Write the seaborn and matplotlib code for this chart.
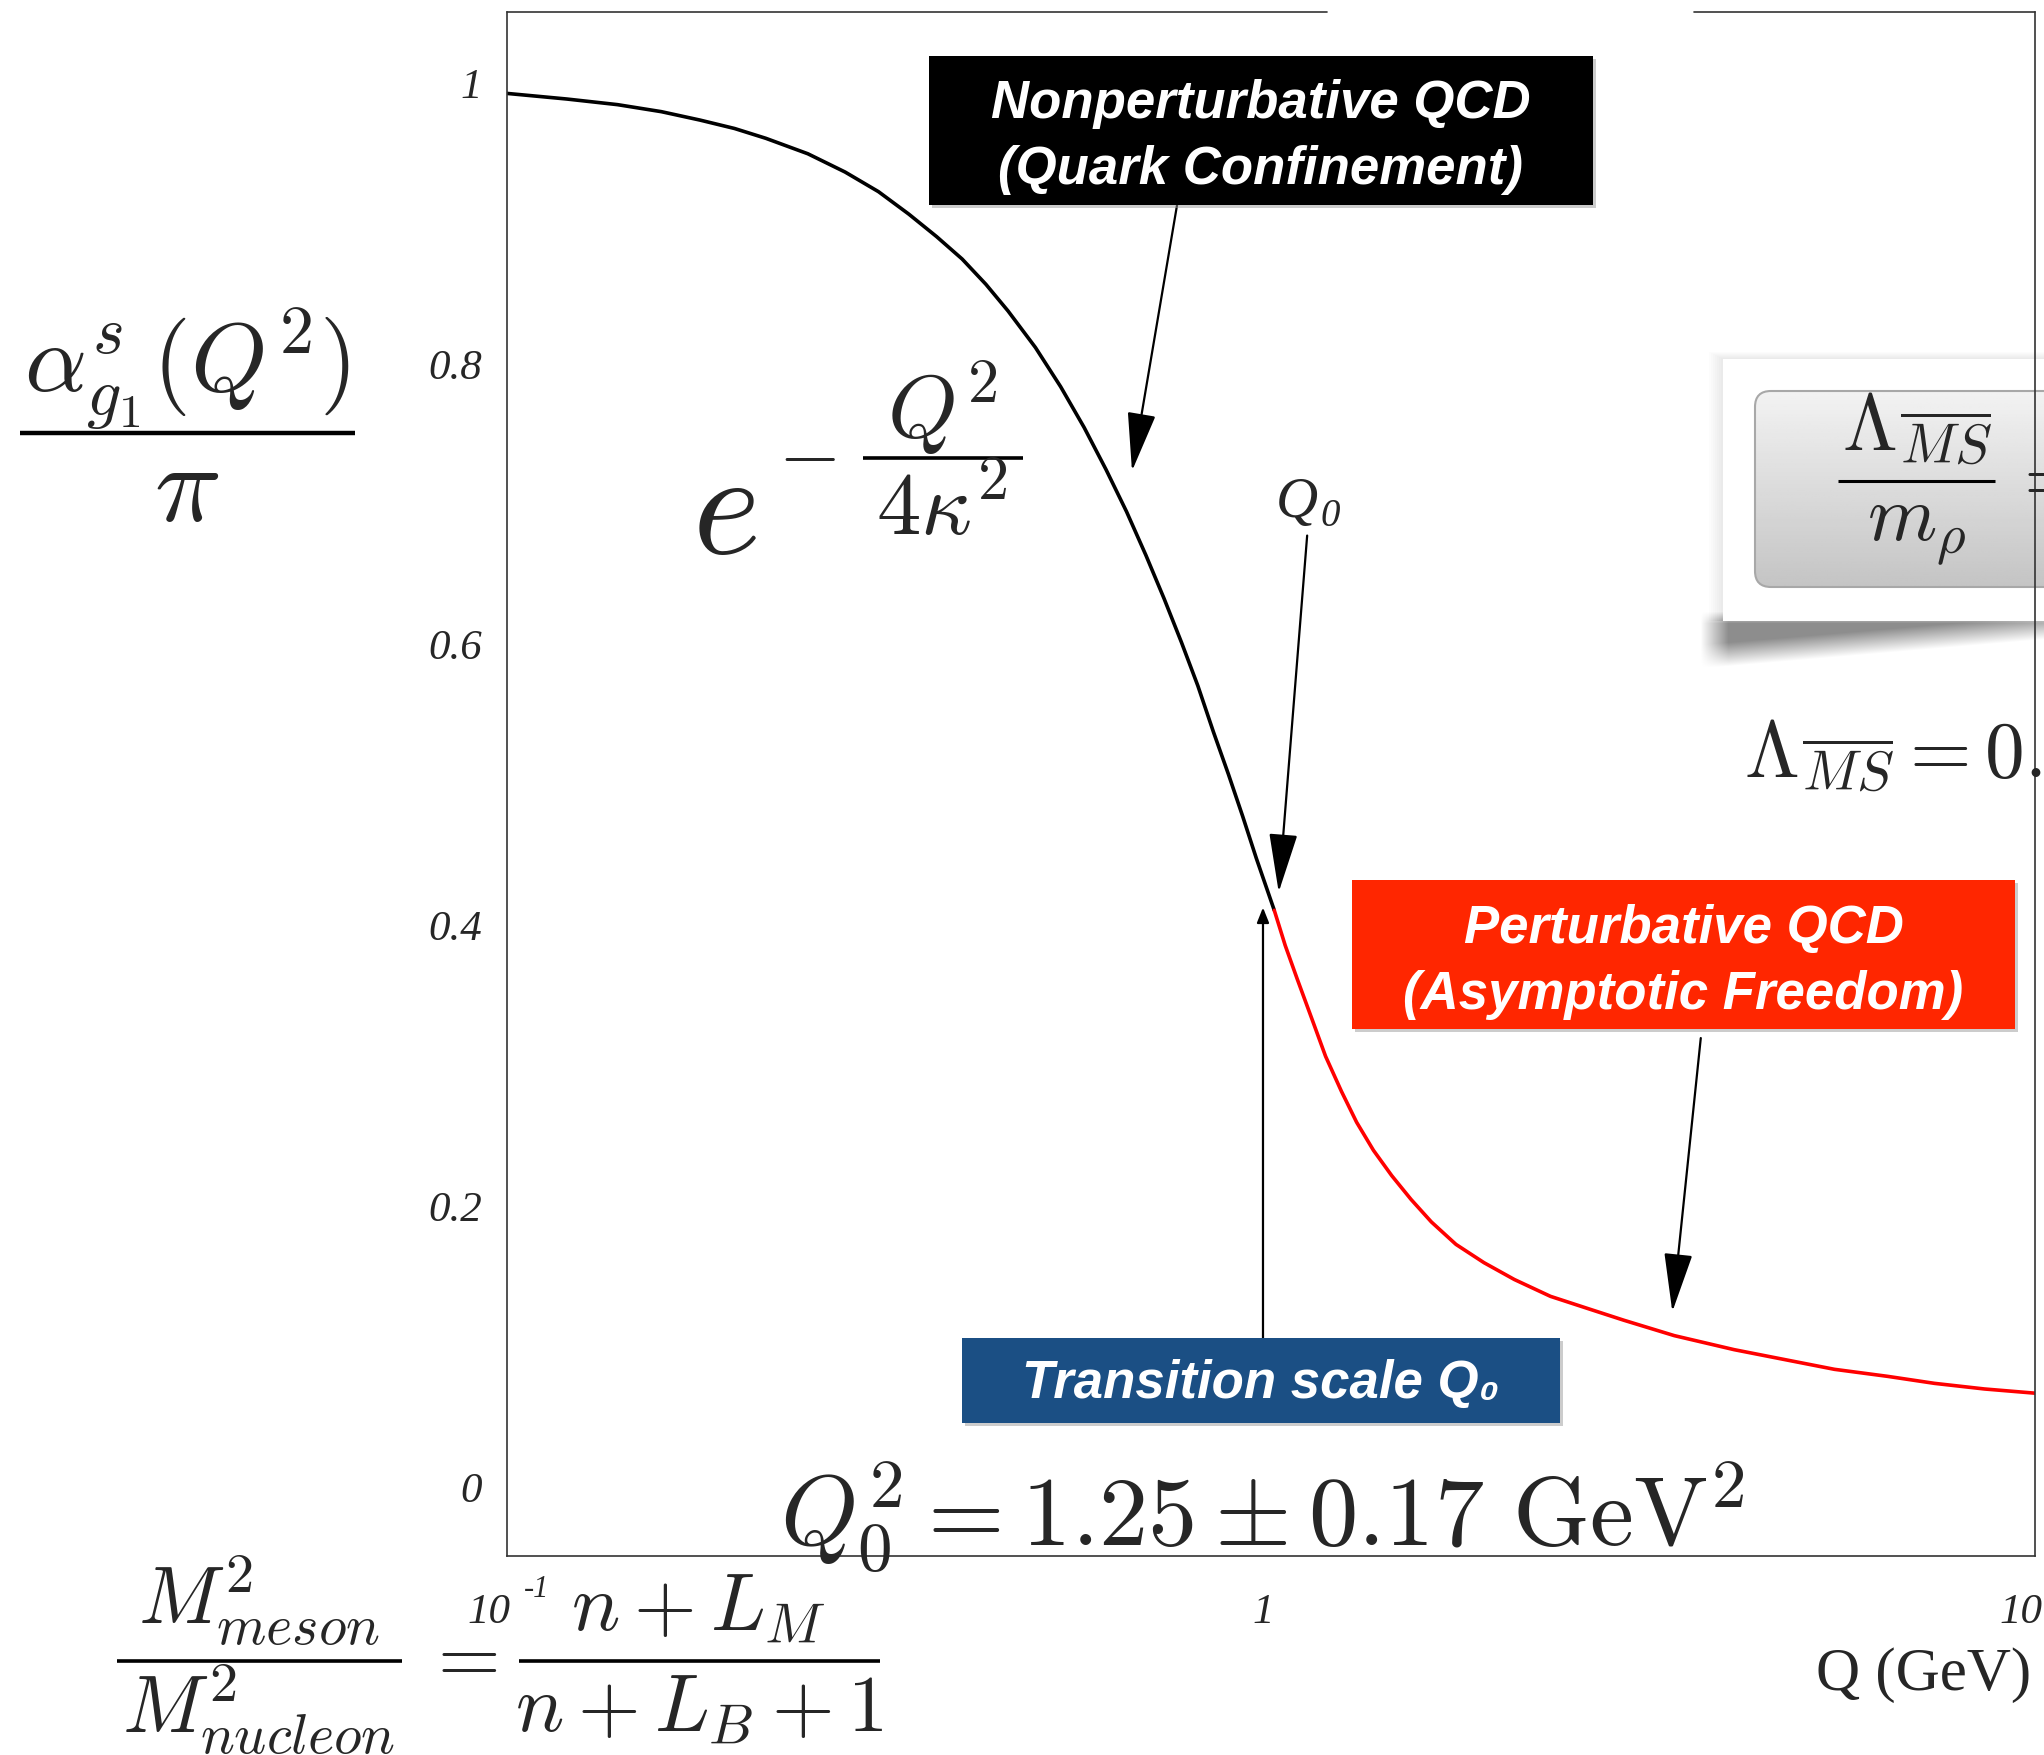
import matplotlib
matplotlib.use("Agg")
import matplotlib.pyplot as plt
import seaborn as sns
import numpy as np
import pandas as pd
from matplotlib.patches import Rectangle, FancyBboxPatch

# curve: nonperturbative (black) and perturbative (red) branches
q_conf = [0.10, 0.12, 0.14, 0.16, 0.18, 0.20, 0.22, 0.25, 0.28, 0.31, 0.34, 0.37, 0.40, 0.43,
          0.46, 0.50, 0.54, 0.58, 0.62, 0.66, 0.70, 0.74, 0.78, 0.82, 0.86, 0.90, 0.94, 0.98, 1.035]
a_conf = [0.992, 0.988, 0.984, 0.979, 0.973, 0.967, 0.960, 0.949, 0.936, 0.922, 0.906, 0.890, 0.874, 0.856,
          0.837, 0.811, 0.783, 0.754, 0.724, 0.694, 0.663, 0.632, 0.601, 0.570, 0.537, 0.507, 0.477, 0.447, 0.410]
q_pert = [1.035, 1.07, 1.11, 1.16, 1.21, 1.27, 1.33, 1.40, 1.48, 1.57, 1.67, 1.80, 1.96, 2.15,
          2.40, 2.70, 3.00, 3.50, 4.20, 5.00, 5.70, 6.70, 7.73, 9.00, 10.5]
a_pert = [0.410, 0.385, 0.361, 0.333, 0.306, 0.281, 0.259, 0.239, 0.221, 0.204, 0.188, 0.172, 0.159, 0.147,
          0.135, 0.126, 0.118, 0.107, 0.097, 0.089, 0.083, 0.078, 0.073, 0.069, 0.066]

y_ticks = [0, 0.2, 0.4, 0.6, 0.8, 1.0]
y_labels = ["0", "0.2", "0.4", "0.6", "0.8", "1"]
x_ticks = [0.1, 1, 10]
x_minor = [0.2, 0.3, 0.4, 0.5, 0.6, 0.7, 0.8, 0.9, 2, 3, 4, 5, 6, 7, 8, 9]

sns.set_theme(style="white")
plt.rcParams["mathtext.fontset"] = "cm"
plt.rcParams["font.family"] = ["Liberation Serif", "DejaVu Serif"]

W, H = 2044, 1756
fig = plt.figure(figsize=(W / 100, H / 100), dpi=100)
fig.patch.set_facecolor("white")

# pixel-coordinate layers behind and in front of the plot
bg = fig.add_axes([0, 0, 1, 1], zorder=0)
ov = fig.add_axes([0, 0, 1, 1], zorder=2)
for a in (bg, ov):
    a.set_xlim(0, W)
    a.set_ylim(H, 0)
    a.axis("off")
    a.patch.set_alpha(0)

x0, x1, y0, y1 = 507, 2035, 13, 1557
ax = fig.add_axes([x0 / W, 1 - y1 / H, (x1 - x0) / W, (y1 - y0) / H], zorder=1)
ax.patch.set_alpha(0)

df_conf = pd.DataFrame({"Q": q_conf, "alpha": a_conf})
df_pert = pd.DataFrame({"Q": q_pert, "alpha": a_pert})
sns.lineplot(data=df_conf, x="Q", y="alpha", color="black", lw=2.6, ax=ax, sort=False)
sns.lineplot(data=df_pert, x="Q", y="alpha", color="#ff0000", lw=2.6, ax=ax, sort=False)

ax.set_xscale("log")
ax.set_xlim(0.1, 10.5)
ax.set_ylim(-0.05, 1.05)
ax.set_xlabel("")
ax.set_ylabel("")

for s in ["left", "bottom", "right"]:
    ax.spines[s].set_color("#333333")
    ax.spines[s].set_linewidth(1.2)
ax.spines["top"].set_visible(False)
# top frame line is interrupted in the reference
gap0, gap1 = (1327 - x0) / (x1 - x0), (1694 - x0) / (x1 - x0)
ax.plot([0, gap0], [1, 1], transform=ax.transAxes, color="#333333", lw=1.2, clip_on=False)
ax.plot([gap1, 1], [1, 1], transform=ax.transAxes, color="#333333", lw=1.2, clip_on=False)

ax.set_yticks(y_ticks, labels=y_labels)
ax.set_yticks(np.round(np.arange(-0.05, 1.051, 0.05), 2), minor=True)
ax.set_xticks(x_ticks, labels=["", "", ""])
ax.set_xticks(x_minor, minor=True, labels=[""] * len(x_minor))
ax.tick_params(axis="both", which="major", direction="in", length=18.5, width=1.0, color="#555555")
ax.tick_params(axis="both", which="minor", direction="in", length=9, width=1.0, color="#555555")
ax.tick_params(axis="y", which="major", pad=18, labelsize=31)
for lbl in ax.get_yticklabels():
    lbl.set_fontstyle("italic")
    lbl.set_family("Liberation Serif")

# x tick labels, ROOT style
tick_kw = dict(xycoords=("data", "axes fraction"), textcoords="offset pixels",
               fontsize=31, fontstyle="italic", family="Liberation Serif", va="baseline")
ax.annotate("10", xy=(x_ticks[0], 0), xytext=(3, -66), ha="right", **tick_kw)
ax.annotate("-1", xy=(x_ticks[0], 0), xytext=(17, -40), ha="left",
            **{**tick_kw, "fontsize": 22})
ax.annotate("1", xy=(x_ticks[1], 0), xytext=(0, -66), ha="center", **tick_kw)
ax.annotate("10", xy=(x_ticks[2], 0), xytext=(2, -66), ha="center", **tick_kw)

ov.text(2031, 1690, "Q (GeV)", ha="right", va="baseline", fontsize=44, family="Liberation Serif")


def frac(xc, ybar, x_a, x_b, num, den, y_num, y_den, size, lw=2.6):
    ov.text(xc, y_num, num, ha="center", va="baseline", fontsize=size)
    ov.plot([x_a, x_b], [ybar, ybar], color="black", lw=lw, solid_capstyle="butt")
    ov.text(xc, y_den, den, ha="center", va="baseline", fontsize=size)


# axis title formula
ov.text(187, 392, r"$\alpha^s_{g_1}(Q^2)$", ha="center", va="baseline", fontsize=70)
ov.plot([20, 355], [434, 434], color="black", lw=3.2, solid_capstyle="butt")
ov.text(187, 521, r"$\pi$", ha="center", va="baseline", fontsize=80)

# Gaussian factor of the nonperturbative branch
ov.text(692, 553, r"$e$", ha="left", va="baseline", fontsize=105)
ov.text(807, 459, r"$-$", ha="center", va="center", fontsize=58)
frac(942, 459, 863, 1023, r"$Q^2$", r"$4\kappa^2$", 437, 534, 64)

ov.text(780, 1546, r"$Q_0^2 = 1.25 \pm 0.17\ \mathrm{GeV}^2$", ha="left", va="baseline", fontsize=71)

# meson / nucleon mass ratio
frac(259, 1662, 117, 402, r"$M^2_{meson}$", r"$M^2_{nucleon}$", 1624, 1733, 58)
ov.text(460, 1662, r"$=$", ha="center", va="center", fontsize=58)
frac(699, 1662, 519, 880, r"$n+L_M$", r"$n+L_B+1$", 1630, 1731, 58)

# Q0 marker label
ov.text(1276, 517, "Q", fontsize=42, fontstyle="italic", family="Liberation Serif", va="baseline")
ov.text(1320, 526, "0", fontsize=28, fontstyle="italic", family="Liberation Serif", va="baseline")

# coloured labels
def label_box(xa, ya, xb, yb, color, lines, ys, size=38):
    ov.add_patch(Rectangle((xa + 3, ya + 3), xb - xa, yb - ya, fc="#9a9a9a", ec="none", alpha=0.5))
    ov.add_patch(Rectangle((xa, ya), xb - xa, yb - ya, fc=color, ec="none"))
    for txt, yy in zip(lines, ys):
        ov.text((xa + xb) / 2, yy, txt, ha="center", va="center", color="white", fontsize=size,
                fontweight="bold", fontstyle="italic", family=["Liberation Sans", "DejaVu Sans"])

label_box(929, 57, 1593, 206, "black", ["Nonperturbative QCD", "(Quark Confinement)"], [104, 170])
label_box(1352, 881, 2015, 1030, "#ff2600", ["Perturbative QCD", "(Asymptotic Freedom)"], [929, 995])
label_box(962, 1339, 1560, 1424, "#1b4f84", ["Transition scale Q\u2080"], [1384])

# arrows
big_head = dict(arrowstyle="-|>,head_length=0.62,head_width=0.15", mutation_scale=60,
                lw=1.6, color="black", shrinkA=0, shrinkB=0)
ax.annotate("", xy=(0.671, 0.723), xytext=(0.770, 0.913), arrowprops=big_head)
ax.annotate("", xy=(1.049, 0.423), xytext=(1.144, 0.677), arrowprops=big_head)
ax.annotate("", xy=(3.479, 0.124), xytext=(3.794, 0.319), arrowprops=big_head)
ax.annotate("", xy=(1.0, 0.412), xytext=(1.0, 0.105),
            arrowprops=dict(arrowstyle="-|>,head_length=0.45,head_width=0.18", mutation_scale=20,
                            lw=1.6, color="black", shrinkA=0, shrinkB=0))

# cut-off callout box on the right edge, with a soft curled shadow
sx = np.arange(1690, 2045)
sy = np.arange(600, 690)
SX, SY = np.meshgrid(sx, sy)
edge = 668 + (640 - 668) * (SX - 1715) / (2044 - 1715)
alpha = (0.45 * np.clip((edge - SY) / 24, 0, 1) * np.clip((SX - 1700) / 28, 0, 1)
         * np.clip((SY - 612) / 12, 0, 1))
shadow = np.zeros(SX.shape + (4,))
shadow[..., 3] = alpha
bg.imshow(shadow, extent=(1690, 2045, 690, 600), aspect="auto", zorder=0.5, interpolation="bilinear")
for i in range(8):
    bg.add_patch(Rectangle((1723 - 2 * i, 360 - i), 400, 262 + i, fc="black", ec="none", alpha=0.01, zorder=0.6))
bg.add_patch(Rectangle((1723, 360), 400, 262, fc="white", ec="none", zorder=0.8))
grad = np.linspace(0.95, 0.77, 100).reshape(-1, 1)
im = bg.imshow(grad, extent=(1755, 2060, 588, 392), cmap="gray", vmin=0, vmax=1, aspect="auto", zorder=1)
clip = FancyBboxPatch((1755, 392), 320, 196, boxstyle="round,pad=0,rounding_size=16",
                      fc="none", ec="#a8a8a8", lw=1.5, zorder=2)
bg.add_patch(clip)
im.set_clip_path(clip)
bg.set_xlim(0, W)
bg.set_ylim(H, 0)

frac(1917, 482, 1838, 1995, r"$\Lambda_{\overline{MS}}$", r"$m_\rho$", 450, 541, 57, lw=2.2)
ov.text(2010, 482, r"$=$", ha="left", va="center", fontsize=57)
ov.text(1744, 777, r"$\Lambda_{\overline{MS}} = 0.$", ha="left", va="baseline", fontsize=57)

fig.savefig("out.png", dpi=100, facecolor="white")
